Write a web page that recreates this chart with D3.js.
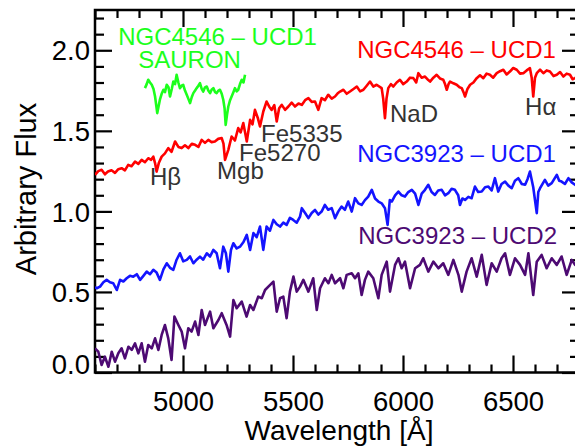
<!DOCTYPE html>
<html><head><meta charset="utf-8">
<script src="https://cdn.jsdelivr.net/npm/d3@7"></script>
<style>
html,body{margin:0;padding:0;background:#fff;}
text{font-family:"Liberation Sans",Arial,Helvetica,sans-serif;}
</style></head>
<body><svg id="c" width="575" height="448"></svg>
<script>
// ---------- data ----------
const redWave = [4600,4615,4630,4645,4659,4675,4691,4706,4721,4736,4751,4766,4782,4797,4812,4827,4842,4855,4865,4873,4880,4890,4903,4918,4933,4948,4964,4979,4994,5009,5024,5040,5055,5070,5085,5100,5115,5130,5145,5160,5176,5184,5191,5206,5221,5236,5251,5262,5274,5290,5305,5316,5327,5340,5350,5365,5380,5392,5403,5415,5426,5437,5449,5464,5479,5494,5509,5525,5540,5555,5570,5585,5600,5615,5630,5645,5660,5676,5691,5705,5714,5729,5744,5759,5775,5790,5805,5820,5835,5850,5865,5880,5903,5910,5918,5925,5933,5945,5956,5971,5986,6001,6017,6032,6047,6060,6070,6085,6100,6115,6123,6138,6153,6168,6183,6191,6199,6207,6214,6229,6244,6257,6267,6275,6282,6293,6305,6320,6335,6350,6365,6380,6395,6410,6426,6441,6456,6471,6486,6501,6517,6532,6547,6562,6577,6585,6592,6600,6608,6623,6638,6653,6668,6684,6699,6714,6729,6744,6759,6771,6782,6800];
const redFlux = [1.227,1.250,1.258,1.230,1.247,1.255,1.239,1.262,1.268,1.255,1.289,1.280,1.309,1.295,1.320,1.305,1.330,1.320,1.340,1.300,1.247,1.300,1.340,1.360,1.393,1.370,1.434,1.400,1.393,1.410,1.393,1.420,1.413,1.400,1.444,1.425,1.444,1.430,1.434,1.450,1.455,1.420,1.320,1.382,1.465,1.440,1.517,1.490,1.548,1.434,1.568,1.540,1.630,1.580,1.527,1.620,1.682,1.650,1.630,1.660,1.558,1.640,1.661,1.630,1.651,1.675,1.651,1.670,1.661,1.690,1.703,1.680,1.682,1.630,1.703,1.690,1.724,1.700,1.713,1.735,1.744,1.755,1.730,1.744,1.760,1.775,1.745,1.755,1.780,1.806,1.775,1.786,1.765,1.700,1.579,1.700,1.765,1.790,1.775,1.800,1.817,1.790,1.806,1.830,1.827,1.800,1.858,1.830,1.837,1.815,1.806,1.830,1.848,1.825,1.817,1.790,1.755,1.790,1.806,1.795,1.786,1.770,1.765,1.740,1.713,1.760,1.786,1.800,1.827,1.845,1.827,1.855,1.848,1.830,1.858,1.870,1.879,1.850,1.868,1.890,1.879,1.855,1.858,1.875,1.889,1.830,1.713,1.830,1.858,1.880,1.858,1.875,1.868,1.840,1.848,1.865,1.837,1.855,1.848,1.820,1.827,1.845];

const greenWave = [4827,4835,4842,4850,4858,4866,4873,4883,4895,4903,4911,4918,4926,4934,4941,4949,4956,4964,4971,4979,4986,4994,5001,5009,5017,5024,5032,5040,5047,5055,5062,5070,5077,5085,5092,5100,5108,5115,5123,5130,5138,5146,5153,5161,5168,5176,5183,5189,5194,5200,5206,5214,5221,5229,5236,5244,5251,5259,5267,5275,5282];
const greenFlux = [1.765,1.790,1.817,1.800,1.786,1.760,1.713,1.610,1.693,1.730,1.755,1.740,1.786,1.770,1.713,1.760,1.806,1.790,1.848,1.800,1.765,1.780,1.786,1.750,1.724,1.700,1.672,1.710,1.734,1.750,1.765,1.780,1.796,1.760,1.744,1.770,1.775,1.750,1.734,1.755,1.765,1.740,1.734,1.750,1.755,1.730,1.693,1.640,1.537,1.600,1.651,1.690,1.713,1.740,1.765,1.745,1.755,1.790,1.817,1.800,1.848];

const blueWave = [4600,4608,4623,4638,4653,4668,4683,4699,4714,4729,4744,4759,4774,4790,4805,4820,4835,4850,4865,4880,4895,4911,4926,4941,4956,4971,4986,5001,5017,5032,5047,5062,5077,5092,5108,5123,5138,5153,5168,5183,5195,5206,5218,5229,5244,5259,5275,5290,5305,5320,5335,5350,5365,5380,5395,5411,5426,5441,5456,5471,5486,5501,5517,5532,5540,5555,5570,5585,5600,5615,5630,5645,5660,5676,5691,5706,5721,5736,5751,5767,5782,5797,5812,5827,5842,5858,5873,5888,5903,5918,5930,5940,5949,5964,5979,5994,6009,6024,6040,6055,6070,6085,6100,6115,6130,6145,6160,6176,6191,6206,6221,6236,6251,6259,6270,6282,6297,6312,6327,6342,6358,6373,6388,6403,6418,6433,6448,6464,6479,6494,6509,6524,6540,6555,6566,6577,6592,6608,6615,6623,6645,6660,6676,6699,6710,6721,6736,6752,6767,6782,6800];
const blueFlux = [0.530,0.523,0.533,0.560,0.575,0.560,0.554,0.512,0.575,0.565,0.585,0.600,0.595,0.610,0.575,0.600,0.626,0.610,0.637,0.620,0.575,0.640,0.678,0.650,0.637,0.700,0.740,0.690,0.699,0.720,0.678,0.700,0.719,0.700,0.740,0.720,0.761,0.740,0.647,0.781,0.740,0.626,0.760,0.802,0.770,0.781,0.810,0.854,0.761,0.865,0.840,0.906,0.761,0.906,0.880,0.947,0.920,0.906,0.930,0.916,0.960,0.947,0.930,0.968,1.020,0.990,0.958,0.990,1.009,0.980,0.999,1.040,1.010,1.020,0.958,1.000,1.030,1.010,1.061,0.999,1.082,1.050,1.040,1.070,1.092,1.134,1.080,1.061,1.050,1.020,0.916,1.070,1.061,1.100,1.123,1.100,1.092,1.120,1.134,1.110,1.040,1.110,1.134,1.165,1.120,1.102,1.130,1.134,1.100,1.113,1.140,1.134,1.100,1.040,1.080,1.071,1.090,1.082,1.154,1.120,1.123,1.150,1.154,1.130,1.206,1.123,1.170,1.185,1.160,1.144,1.190,1.206,1.170,1.165,1.200,1.247,1.150,0.989,1.120,1.144,1.196,1.160,1.175,1.227,1.190,1.185,1.170,1.206,1.180,1.165,1.190];

const purpleWave = [4600,4615,4630,4645,4661,4676,4691,4706,4721,4736,4752,4767,4782,4797,4812,4827,4842,4858,4873,4888,4903,4918,4933,4948,4961,4979,4994,5009,5024,5039,5055,5070,5085,5100,5123,5138,5161,5176,5198,5214,5229,5244,5267,5289,5305,5320,5342,5358,5373,5388,5411,5426,5441,5456,5471,5486,5502,5517,5532,5547,5570,5592,5608,5623,5645,5661,5676,5691,5714,5729,5744,5767,5782,5797,5812,5827,5842,5865,5888,5903,5926,5941,5964,5979,5994,6009,6032,6055,6077,6092,6115,6138,6161,6183,6206,6229,6252,6267,6289,6312,6335,6358,6380,6403,6426,6448,6464,6486,6509,6532,6555,6570,6592,6608,6630,6653,6676,6699,6721,6744,6767,6782,6800];
const purpleFlux = [0.150,0.129,0.047,0.098,0.036,0.129,0.067,0.119,0.150,0.088,0.160,0.140,0.181,0.119,0.181,0.067,0.171,0.150,0.212,0.140,0.233,0.295,0.212,0.078,0.347,0.295,0.254,0.150,0.275,0.254,0.316,0.233,0.388,0.295,0.378,0.275,0.326,0.368,0.295,0.223,0.450,0.399,0.440,0.347,0.419,0.388,0.471,0.461,0.512,0.533,0.564,0.378,0.461,0.471,0.337,0.502,0.595,0.502,0.533,0.575,0.502,0.585,0.388,0.523,0.585,0.554,0.606,0.554,0.585,0.523,0.606,0.616,0.585,0.616,0.481,0.575,0.626,0.585,0.461,0.606,0.688,0.502,0.668,0.709,0.647,0.688,0.523,0.647,0.668,0.709,0.626,0.688,0.647,0.678,0.606,0.699,0.606,0.502,0.626,0.709,0.595,0.730,0.544,0.678,0.626,0.709,0.740,0.606,0.709,0.668,0.606,0.740,0.481,0.688,0.730,0.647,0.709,0.668,0.720,0.606,0.699,0.668,0.690];

const xMajorTicks = [5000,5500,6000,6500];
const xTickLabels = ["5000","5500","6000","6500"];
const yMajorTicks = [0,0.5,1.0,1.5,2.0];
const yTickLabels = ["0.0","0.5","1.0","1.5","2.0"];
const xTitle = "Wavelength [Å]";
const yTitle = "Arbitrary Flux";

// ---------- layout ----------
const svg = d3.select("#c");
const L = 95, R = 579, T = 10, B = 372.5;
const x = d3.scaleLinear().domain([4600,6800]).range([L,R]);
const y = d3.scaleLinear().domain([0,2.25]).range([B,T]);

svg.append("defs").append("clipPath").attr("id","clip")
  .append("rect").attr("x",L).attr("y",T).attr("width",R-L).attr("height",B-T);

const xMinor = d3.range(4600,6801,100).filter(v=>v%500!==0);
const yMinor = d3.range(0,23).map(i=>+(i*0.1).toFixed(1)).filter(v=>Math.abs(v*2-Math.round(v*2))>1e-6);

function style(g){ g.select(".domain").remove(); g.selectAll(".tick line").attr("stroke","#000").attr("stroke-width",2.2); }

// bottom
svg.append("g").attr("transform",`translate(0,${B})`).call(d3.axisBottom(x).tickValues(xMinor).tickSize(-8).tickFormat("")).call(style);
const gxb = svg.append("g").attr("transform",`translate(0,${B})`)
  .call(d3.axisBottom(x).tickValues(xMajorTicks).tickSize(-17).tickPadding(19).tickFormat((d,i)=>xTickLabels[i])).call(style);
gxb.selectAll(".tick text").attr("font-size",27.5).attr("fill","#000").attr("dy","0.71em").style("font-family","Liberation Sans, Arial, sans-serif");
// top
svg.append("g").attr("transform",`translate(0,${T})`).call(d3.axisTop(x).tickValues(xMinor).tickSize(-8).tickFormat("")).call(style);
svg.append("g").attr("transform",`translate(0,${T})`).call(d3.axisTop(x).tickValues(xMajorTicks).tickSize(-17).tickFormat("")).call(style);
// left
svg.append("g").attr("transform",`translate(${L},0)`).call(d3.axisLeft(y).tickValues(yMinor).tickSize(-9).tickFormat("")).call(style);
const gyl = svg.append("g").attr("transform",`translate(${L},0)`)
  .call(d3.axisLeft(y).tickValues(yMajorTicks).tickSize(-17).tickPadding(5).tickFormat((d,i)=>yTickLabels[i])).call(style);
gyl.selectAll(".tick text").attr("font-size",27.5).attr("fill","#000").style("font-family","Liberation Sans, Arial, sans-serif")
  .attr("dy",(d)=> d===0 ? "0.05em" : "0.35em");
// right
svg.append("g").attr("transform",`translate(${R},0)`).call(d3.axisRight(y).tickValues(yMinor).tickSize(-9).tickFormat("")).call(style);
svg.append("g").attr("transform",`translate(${R},0)`).call(d3.axisRight(y).tickValues(yMajorTicks).tickSize(-17).tickFormat("")).call(style);

// frame
svg.append("rect").attr("x",L).attr("y",T).attr("width",R-L).attr("height",B-T)
  .attr("fill","none").attr("stroke","#000").attr("stroke-width",2.5);

// series
const line = d3.line().x(d=>x(d[0])).y(d=>y(d[1]));
const plot = svg.append("g").attr("clip-path","url(#clip)");
function draw(w,f,color){
  plot.append("path").datum(w.map((v,i)=>[v,f[i]])).attr("d",line)
    .attr("fill","none").attr("stroke",color).attr("stroke-width",2.6).attr("stroke-linejoin","round");
}
draw(purpleWave,purpleFlux,"#4d0a73");
draw(blueWave,blueFlux,"#1414ff");
draw(redWave,redFlux,"#ff0000");
draw(greenWave,greenFlux,"#1cff1c");

// annotations
function txt(wl,v,s,color,size,anchor){
  svg.append("text").attr("x",x(wl)).attr("y",y(v)).attr("fill",color).attr("font-size",size)
    .attr("text-anchor",anchor||"start").text(s);
}
txt(5157,2.034,"NGC4546 – UCD1","#1cff1c",24,"middle");
txt(5030,1.891,"SAURON","#1cff1c",24,"middle");
txt(6695,1.953,"NGC4546 – UCD1","#ff0000",24,"end");
txt(6695,1.307,"NGC3923 – UCD1","#1414ff",24,"end");
txt(6700,0.798,"NGC3923 – UCD2","#4d0a73",24,"end");
txt(4850,1.165,"Hβ","#333",24);
txt(5155,1.202,"Mgb","#333",24);
txt(5255,1.314,"Fe5270","#333",24);
txt(5355,1.432,"Fe5335","#333",24);
txt(5941,1.556,"NaD","#333",24);
txt(6555,1.599,"Hα","#333",24);

// titles
svg.append("text").attr("x",339).attr("y",440).attr("text-anchor","middle").attr("font-size",28).attr("fill","#000").text(xTitle);
svg.append("text").attr("transform",`translate(36,189) rotate(-90)`).attr("text-anchor","middle").attr("font-size",29).attr("fill","#000").text(yTitle);
</script></body></html>
